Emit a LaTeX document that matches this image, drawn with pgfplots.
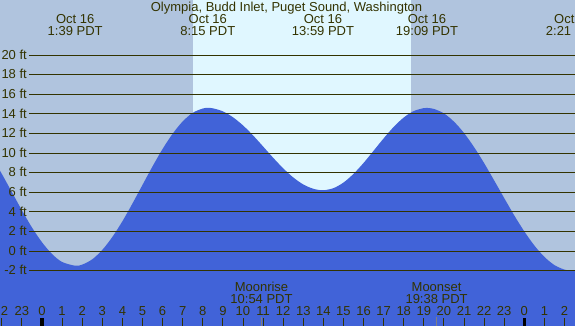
\documentclass[border=0pt]{standalone}
\usepackage{pgfplots}
\pgfplotsset{compat=1.18}
\usepackage{fontspec}
\setmainfont{Liberation Sans}
\definecolor{night}{HTML}{B0C4DE}
\definecolor{day}{HTML}{E0F7FF}
\definecolor{water}{HTML}{4163D8}
\definecolor{ink}{HTML}{333300}
\begin{document}
\begin{tikzpicture}[font=\fontsize{13}{13}\selectfont, text=ink]
\useasboundingbox (0,0) rectangle (575pt,326pt);
\clip (0,0) rectangle (575pt,326pt);
\begin{axis}[at={(0,0)}, anchor=south west, width=575pt, height=326pt, scale only axis,
  xmin=-2.090, xmax=26.523, ymin=-7.653, ymax=25.612,
  axis line style={draw=none}, ticks=none,
  axis background/.style={fill=night}]
\fill[day] (axis cs:7.51,-8) rectangle (axis cs:18.36,26);
\addplot[fill=water, draw=none, smooth] coordinates {
(-2.5,9.62) (-2,7.87) (-1.5,6.01) (-1,4.15) (-0.5,2.40) (0,0.89) (0.5,-0.31) (1,-1.12) (1.65,-1.5)
(2,-1.39) (2.5,-0.85) (3,0.11) (3.5,1.43) (4,3.03) (4.5,4.84) (5,6.74) (5.5,8.63) (6,10.41) (6.5,11.96)
(7,13.22) (7.5,14.10) (8,14.54) (8.25,14.6) (8.5,14.56) (9,14.25) (9.5,13.65) (10,12.82) (10.5,11.80)
(11,10.67) (11.5,9.52) (12,8.44) (12.5,7.51) (13,6.79) (13.5,6.35) (13.98,6.2) (14.5,6.41) (15,6.98)
(15.5,7.87) (16,8.98) (16.5,10.23) (17,11.49) (17.5,12.66) (18,13.62) (18.5,14.28) (19,14.58) (19.15,14.6)
(19.5,14.50) (20,14.04) (20.5,13.20) (21,12.04) (21.5,10.60) (22,8.97) (22.5,7.20) (23,5.40) (23.5,3.63)
(24,2.00) (24.5,0.56) (25,-0.60) (25.5,-1.44) (26,-1.90) (26.35,-2.0) (26.8,-1.92)
} -- (axis cs:26.8,-9) -- (axis cs:-2.5,-9) -- cycle;
\pgfplotsinvokeforeach{-2,0,...,20}{
  \draw[ink, line width=0.9pt] (axis cs:-0.647,#1) -- (axis cs:27,#1);
  \node[anchor=base east, inner sep=0pt] at ([yshift=-4.3pt]axis cs:-0.746,#1) {#1 ft};
}
\end{axis}
% title and tide labels
\node[anchor=base, inner sep=0pt] at (286.5pt,314pt) {Olympia, Budd Inlet, Puget Sound, Washington};
\foreach \x/\t in {75.2/1:39, 207.8/8:15, 323.0/13:59, 427.0/19:09} {
  \node[anchor=base, inner sep=0pt] at (\x pt,302pt) {Oct 16};
  \node[anchor=base, inner sep=0pt] at (\x pt,290.3pt) {\t{} PDT};
}
\node[anchor=base west, inner sep=0pt] at (554pt,302pt) {Oct};
\node[anchor=base west, inner sep=0pt] at (545.7pt,290.3pt) {2:21};
% hour ticks and labels
\node[anchor=base, inner sep=0pt] at (4.4pt,10pt) {2};
\foreach \h/\l in {-2/,-1/23,0/0,1/1,2/2,3/3,4/4,5/5,6/6,7/7,8/8,9/9,10/10,11/11,12/12,13/13,14/14,15/15,16/16,17/17,18/18,19/19,20/20,21/21,22/22,23/23,24/0,25/1,26/2} {
  \pgfmathsetmacro{\xx}{42+20.096*\h}
  \draw[ink, line width=0.9pt] (\xx pt,0) -- (\xx pt,8pt);
  \node[anchor=base, inner sep=0pt] at (\xx pt,10pt) {\l};
}
\fill[black] (40.2pt,0) rectangle (43.6pt,8pt);
\fill[black] (522.5pt,0) rectangle (525.9pt,8pt);
% moon
\draw[gray, line width=0.9pt] (261.0pt,0) -- (261.0pt,9pt);
\draw[gray, line width=0.9pt] (436.6pt,0) -- (436.6pt,9pt);
\node[anchor=base, inner sep=0pt] at (261.5pt,34.3pt) {Moonrise};
\node[anchor=base, inner sep=0pt] at (261.5pt,22.7pt) {10:54 PDT};
\node[anchor=base, inner sep=0pt] at (436.6pt,34.3pt) {Moonset};
\node[anchor=base, inner sep=0pt] at (436.6pt,22.7pt) {19:38 PDT};
\end{tikzpicture}
\end{document}
